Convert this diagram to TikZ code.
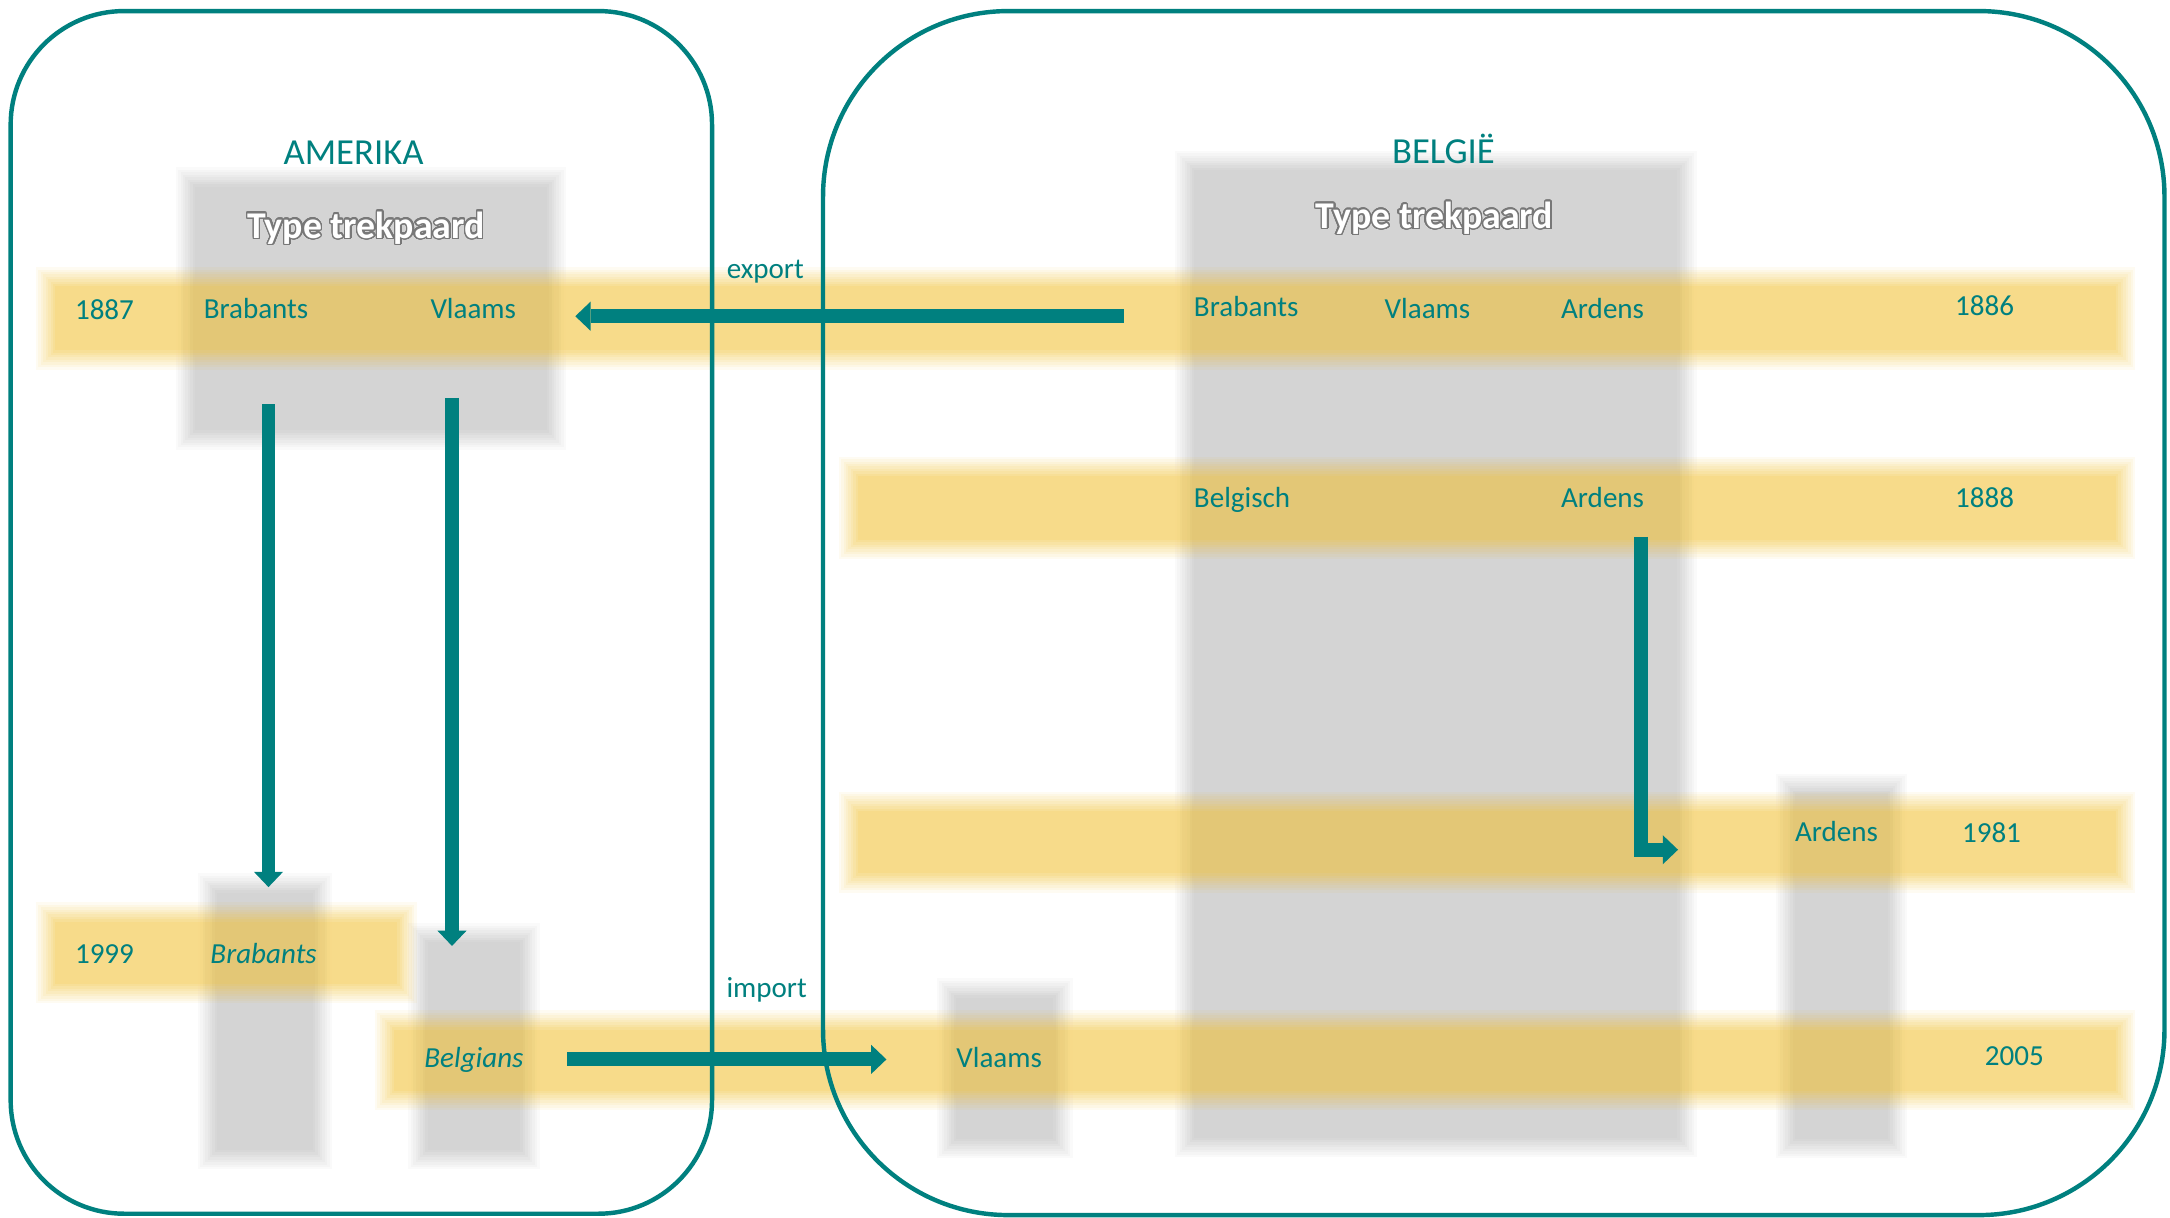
\documentclass[tikz,border=0pt]{standalone}
\usepackage{fontspec}
\setmainfont{Carlito}
\usepackage{contour}
\contourlength{1.0pt}
\contournumber{32}
\usetikzlibrary{arrows.meta}
\definecolor{tealc}{RGB}{0,128,127}
\definecolor{grayc}{RGB}{212,212,212}
\definecolor{goldc}{RGB}{247,190,22}
\definecolor{outl}{RGB}{120,120,120}
% soft-edged rectangle: #1 style, #2..#5 corners, #6 core opacity
\newcommand\softrect[6]{\foreach \k in {1,...,9}{%
  \pgfmathsetmacro\d{7-(\k-1)*1.75}%
  \pgfmathsetmacro\o{1-(1-#6*\k/9)/(1-#6*(\k-1)/9)}%
  \fill[#1,opacity=\o] ({#2-\d},{#3-\d}) rectangle ({#4+\d},{#5+\d});}}
\begin{document}
\begin{tikzpicture}[x=1pt,y=-1pt,
  boxline/.style={draw=tealc,line width=3.2pt},
  graybk/.style={fill=grayc},
  yelbk/.style={fill=goldc},
  lbl/.style={text=tealc,font=\fontsize{21}{25}\selectfont,inner sep=0pt,anchor=base},
  lbli/.style={lbl,font=\fontsize{21}{25}\selectfont\itshape},
  ttl/.style={lbl,font=\fontsize{26.5}{31}\selectfont},
  typ/.style={inner sep=0pt,anchor=base,font=\fontsize{27.3}{32}\selectfont\bfseries,text=white},
  arr/.style={draw=tealc,line width=10pt,line join=miter,-{Triangle[length=11pt 0 0,width=21pt 0 0,line width=0pt]}}]
\useasboundingbox (0,0) rectangle (1568,880);
\fill[white] (0,0) rectangle (1568,880);
% gray blocks
\softrect{graybk}{134}{128}{402}{318}{1}
\softrect{graybk}{856}{116}{1219}{829}{1}
\softrect{graybk}{150}{638}{233}{838}{1}
\softrect{graybk}{302}{674}{383}{838}{1}
\softrect{graybk}{684}{714}{768}{830}{1}
\softrect{graybk}{1290}{566}{1371}{830}{1}
% yellow bands
\softrect{yelbk}{33}{200}{1536}{260}{0.48}
\softrect{yelbk}{613}{337}{1536}{397}{0.48}
\softrect{yelbk}{613}{579}{1536}{638}{0.48}
\softrect{yelbk}{33}{659}{294}{718}{0.48}
\softrect{yelbk}{278}{737}{1536}{795}{0.48}
% boxes
\draw[boxline,rounded corners=82pt] (7.7,8) rectangle (514.5,877);
\draw[boxline,rounded corners=134pt] (594.7,8) rectangle (1564,878);
% titles
\node[ttl] (amerika) at (255.5,119) {AMERIKA};
\node[ttl] (belgie) at (1043,118.5) {BELGIË};
\node[typ] (type1) at (264.5,172) {\contour{outl}{Type trekpaard}};
\node[typ] (type2) at (1036.5,165) {\contour{outl}{Type trekpaard}};
% row 1
\node[lbl] (t1887) at (75.5,231) {1887};
\node[lbl] (aBrab) at (185,230) {Brabants};
\node[lbl] (aVlaams) at (342,230) {Vlaams};
\node[lbl] (export) at (553,201) {export};
\node[lbl] (bBrab) at (900.5,229) {Brabants};
\node[lbl] (bVlaams) at (1031.5,230) {Vlaams};
\node[lbl] (bArdens) at (1158,230) {Ardens};
\node[lbl] (t1886) at (1434,228) {1886};
% row 2
\node[lbl] (bBelgisch) at (897.5,367) {Belgisch};
\node[lbl] (bArdens2) at (1158,367) {Ardens};
\node[lbl] (t1888) at (1434,367) {1888};
% row 3
\node[lbl] (bArdens3) at (1327,608) {Ardens};
\node[lbl] (t1981) at (1439,609) {1981};
% row 4
\node[lbl] (t1999) at (75.5,696) {1999};
\node[lbli] (aBrab2) at (190.5,696) {Brabants};
% row 5
\node[lbl] (import) at (554,721) {import};
\node[lbli] (aBelgians) at (342.5,771) {Belgians};
\node[lbl] (bVlaams2) at (722,771) {Vlaams};
\node[lbl] (t2005) at (1455.5,770) {2005};
% arrow ends
\coordinate (exS) at (812,228.5);
\coordinate (exE) at (415.7,228.5);
\coordinate (dbS) at (194,292);
\coordinate (dbE) at (194,641);
\coordinate (dvS) at (326.6,287.5);
\coordinate (dvE) at (326.6,683.5);
\coordinate (imS) at (410,765.5);
\coordinate (imE) at (640.5,765.5);
\coordinate (elS) at (1185.5,388);
\coordinate (elE) at (1212.5,614);
\draw[arr] (exS) -- (exE);
\draw[arr] (dbS) -- (dbE);
\draw[arr] (dvS) -- (dvE);
\draw[arr] (imS) -- (imE);
\draw[arr] (elS) |- (elE);
\end{tikzpicture}
\end{document}
